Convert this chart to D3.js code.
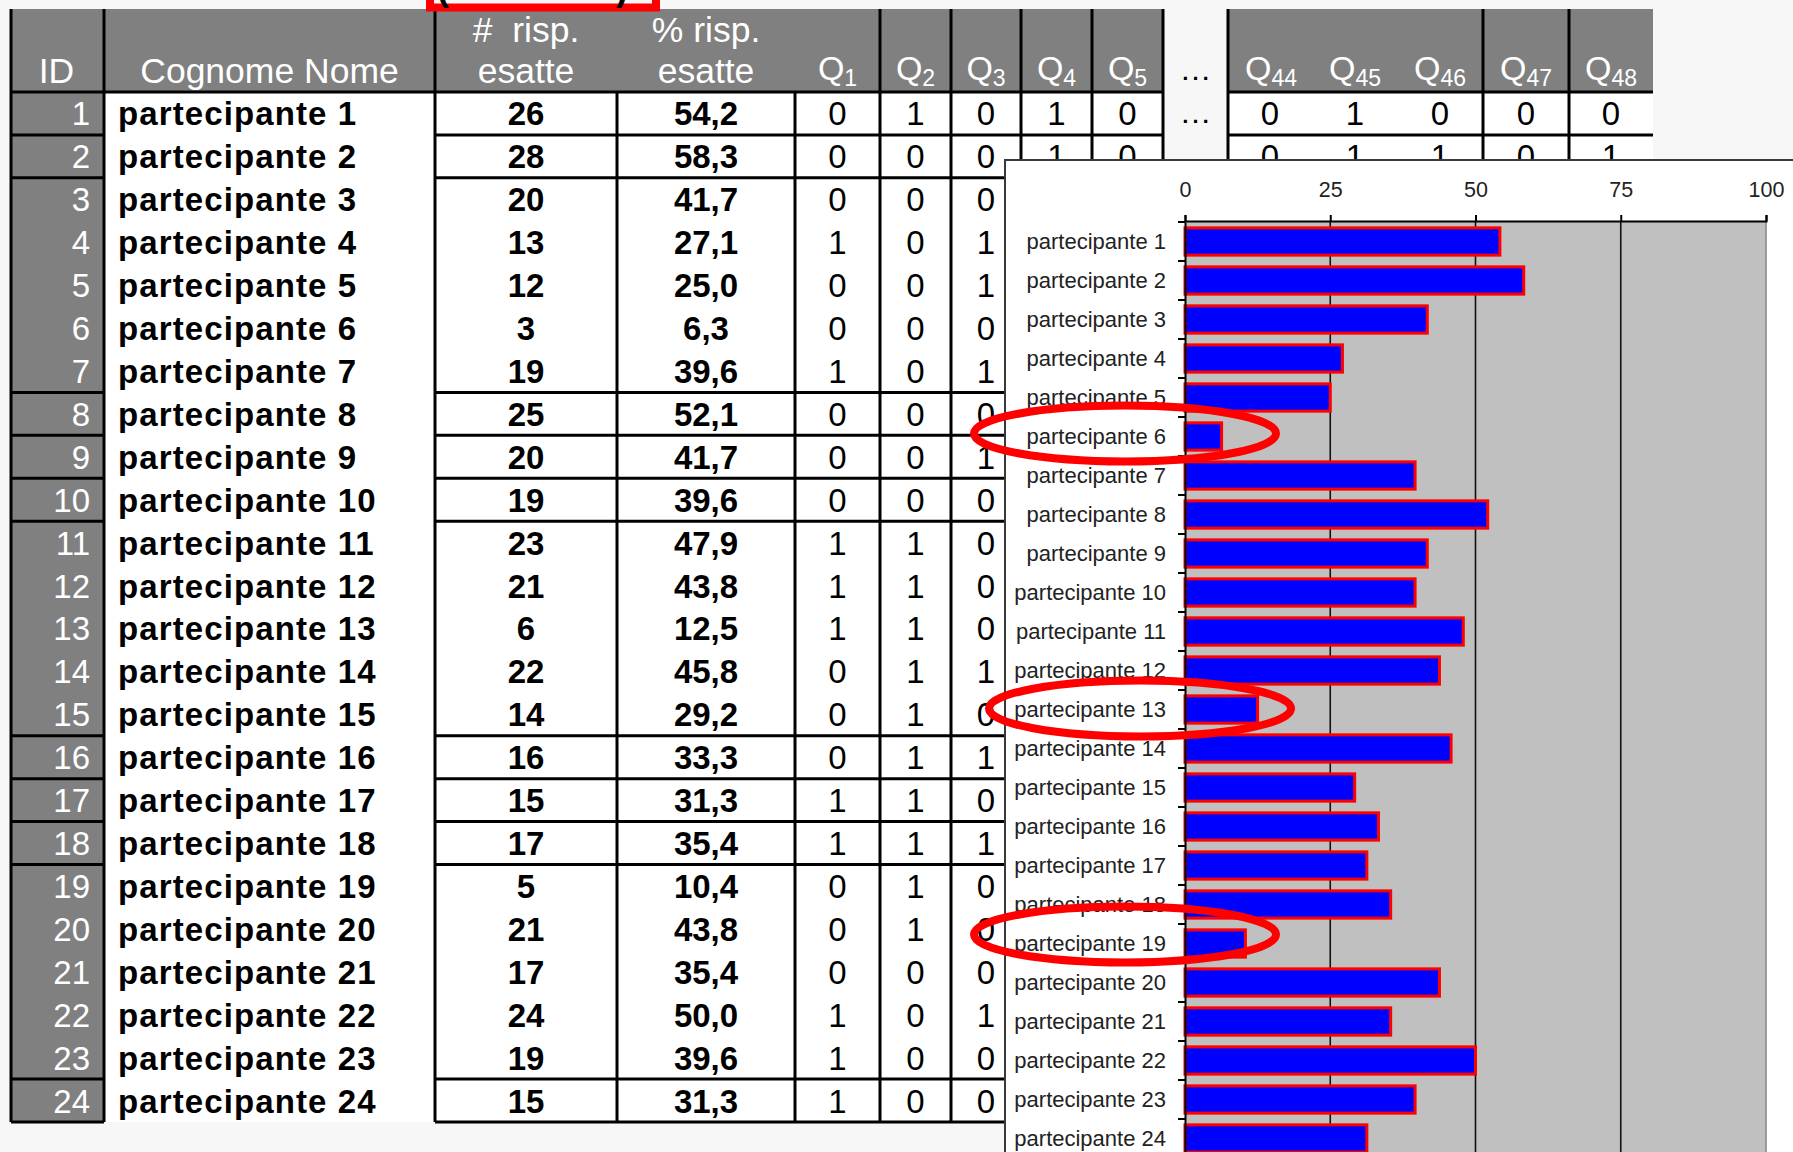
<!DOCTYPE html>
<html>
<head>
<meta charset="utf-8">
<script src="https://cdn.jsdelivr.net/npm/d3@7"></script>
<style>
  html, body { margin: 0; padding: 0; background: #f7f7f7; }
  svg { display: block; font-family: "Liberation Sans", Arial, sans-serif; }
</style>
</head>
<body>
<svg id="tabella" width="1793" height="1152"></svg>
<script>
const ids = [1, 2, 3, 4, 5, 6, 7, 8, 9, 10, 11, 12, 13, 14, 15, 16, 17, 18, 19, 20, 21, 22, 23, 24];
const nomi = ids.map(i => "partecipante " + i);
const rispEsatte = [26, 28, 20, 13, 12, 3, 19, 25, 20, 19, 23, 21, 6, 22, 14, 16, 15, 17, 5, 21, 17, 24, 19, 15];
const percEsatte = [54.2, 58.3, 41.7, 27.1, 25.0, 6.3, 39.6, 52.1, 41.7, 39.6, 47.9, 43.8, 12.5, 45.8, 29.2, 33.3, 31.3, 35.4, 10.4, 43.8, 35.4, 50.0, 39.6, 31.3];
const q1 = [0, 0, 0, 1, 0, 0, 1, 0, 0, 0, 1, 1, 1, 0, 0, 0, 1, 1, 0, 0, 0, 1, 1, 1];
const q2 = [1, 0, 0, 0, 0, 0, 0, 0, 0, 0, 1, 1, 1, 1, 1, 1, 1, 1, 1, 1, 0, 0, 0, 0];
const q3 = [0, 0, 0, 1, 1, 0, 1, 0, 1, 0, 0, 0, 0, 1, 0, 1, 0, 1, 0, 0, 0, 1, 0, 0];
// nur die ersten zwei Zeilen sind sichtbar (Rest vom Diagramm verdeckt)
const q4 = [1, 1];
const q5 = [0, 0];
const q44 = [0, 0];
const q45 = [1, 1];
const q46 = [0, 1];
const q47 = [0, 0];
const q48 = [0, 1];
const gruppi = [1, 1, 5, 1, 1, 1, 5, 1, 1, 1, 5, 1];   // Zeilen pro umrandetem Block
const xTicks = [0, 25, 50, 75, 100];
const evidenziati = ["partecipante 6", "partecipante 13", "partecipante 19"];

const fmt = v => d3.format(".1f")(v).replace(".", ",");

const svg = d3.select("#tabella");

// --- Tabelle ---
const top0 = 9, headBottom = 92, bodyBottom = 1122;
const row = d3.scaleBand().domain(nomi).range([headBottom, bodyBottom]);
const baseline = n => row(n) + row.bandwidth() / 2 + 12;

// Spaltengrenzen
const col = {
  id: [11, 104], nome: [104, 435], n: [435, 617], pct: [617, 795],
  q1: [795, 880], q2: [880, 951], q3: [951, 1021], q4: [1021, 1092], q5: [1092, 1163],
  gap: [1163, 1228], qa: [1228, 1483], q47: [1483, 1569], q48: [1569, 1653]
};
const mid = c => (c[0] + c[1]) / 2;

// Hintergründe
svg.append("rect").attr("x", 104).attr("y", headBottom).attr("width", 1163 - 104).attr("height", bodyBottom - headBottom).attr("fill", "#fff");
svg.append("rect").attr("x", 1228).attr("y", headBottom).attr("width", 1653 - 1228).attr("height", bodyBottom - headBottom).attr("fill", "#fff");
svg.append("rect").attr("x", 11).attr("y", top0).attr("width", 1163 - 11).attr("height", headBottom - top0).attr("fill", "#808080");
svg.append("rect").attr("x", 1228).attr("y", top0).attr("width", 1653 - 1228).attr("height", headBottom - top0).attr("fill", "#808080");
svg.append("rect").attr("x", 11).attr("y", headBottom).attr("width", 104 - 11).attr("height", bodyBottom - headBottom).attr("fill", "#808080");

// Kopfzeile
const head = svg.append("g").attr("fill", "#fff").attr("font-size", 35.5).attr("text-anchor", "middle");
head.append("text").attr("x", mid(col.id) - 1).attr("y", 83).text("ID");
head.append("text").attr("x", mid(col.nome)).attr("y", 83).text("Cognome Nome");
head.append("text").attr("x", mid(col.n)).attr("y", 42).attr("xml:space", "preserve").text("#  risp.");
head.append("text").attr("x", mid(col.n)).attr("y", 83).text("esatte");
head.append("text").attr("x", mid(col.pct)).attr("y", 42).text("% risp.");
head.append("text").attr("x", mid(col.pct)).attr("y", 83).text("esatte");

const qHead = [
  ["1", mid(col.q1)], ["2", mid(col.q2)], ["3", mid(col.q3)], ["4", mid(col.q4)], ["5", mid(col.q5)],
  ["44", 1271], ["45", 1355], ["46", 1440], ["47", mid(col.q47)], ["48", mid(col.q48)]
];
qHead.forEach(([s, cx]) => {
  const t = head.append("text").attr("x", cx).attr("y", 80).attr("font-size", 34);
  t.append("tspan").text("Q");
  t.append("tspan").attr("font-size", 23).attr("dy", 6).text(s);
});
svg.append("text").attr("x", mid(col.gap)).attr("y", 80).attr("text-anchor", "middle").attr("font-size", 32).text("…");

// Zellen
const body = svg.append("g").attr("font-size", 33).attr("text-anchor", "middle").attr("fill", "#000");
body.selectAll("text.id").data(ids).join("text").attr("class", "id")
  .attr("x", 90).attr("y", (d, i) => baseline(nomi[i])).attr("text-anchor", "end").attr("fill", "#fff").text(d => d);
body.selectAll("text.nome").data(nomi).join("text").attr("class", "nome")
  .attr("x", 118).attr("y", d => baseline(d)).attr("text-anchor", "start")
  .attr("font-weight", "bold").attr("letter-spacing", 1.1).text(d => d);
body.selectAll("text.n").data(rispEsatte).join("text").attr("class", "n")
  .attr("x", mid(col.n)).attr("y", (d, i) => baseline(nomi[i])).attr("font-weight", "bold").text(d => d);
body.selectAll("text.pct").data(percEsatte).join("text").attr("class", "pct")
  .attr("x", mid(col.pct)).attr("y", (d, i) => baseline(nomi[i])).attr("font-weight", "bold").text(d => fmt(d));

const qCols = [[q1, mid(col.q1)], [q2, mid(col.q2)], [q3, mid(col.q3)], [q4, mid(col.q4)], [q5, mid(col.q5)],
  [q44, 1270], [q45, 1355], [q46, 1440], [q47, mid(col.q47)], [q48, mid(col.q48)]];
qCols.forEach(([vals, cx]) => {
  body.append("g").selectAll("text").data(vals).join("text")
    .attr("x", cx).attr("y", (d, i) => baseline(nomi[i])).text(d => d);
});
body.append("text").attr("x", mid(col.gap)).attr("y", baseline(nomi[0]) - 2).attr("font-size", 32).text("…");

// Linien
const lines = svg.append("g").attr("stroke", "#000").attr("stroke-width", 3).attr("fill", "none");
const vline = (x, y1, y2) => lines.append("line").attr("x1", x).attr("x2", x).attr("y1", y1).attr("y2", y2);
const hline = (y, x1, x2) => lines.append("line").attr("x1", x1).attr("x2", x2).attr("y1", y).attr("y2", y);

[11, 104, 435, 880, 951, 1021, 1092, 1163, 1228, 1483, 1569].forEach(x => vline(x, top0, bodyBottom));
[617, 795].forEach(x => vline(x, headBottom, bodyBottom));
hline(headBottom, 11, 1163);
hline(headBottom, 1228, 1653);

// Blockgrenzen
let k = 0;
const grenzen = [];
gruppi.forEach(g => { k += g; grenzen.push(k); });
grenzen.forEach(r => {
  const yy = r < nomi.length ? row(nomi[r]) : bodyBottom;
  hline(yy, 11, 104);
  hline(yy, 435, 1163);
  hline(yy, 1228, 1653);
});

// --- Balkendiagramm (überlagert) ---
svg.append("rect").attr("x", 1005).attr("y", 160).attr("width", 820).attr("height", 1020)
  .attr("fill", "#fff").attr("stroke", "#3a3a3a").attr("stroke-width", 2);

const x = d3.scaleLinear().domain([0, 100]).range([1185, 1766]);
const y = d3.scaleBand().domain(nomi).range([222, 222 + 24 * 39]).paddingInner(0.3).paddingOuter(0.15);

svg.append("rect").attr("x", x(0)).attr("y", 221).attr("width", x(100) - x(0)).attr("height", 960).attr("fill", "#c0c0c0");

// Gitterlinien
svg.append("g").selectAll("line").data(xTicks.slice(1)).join("line")
  .attr("x1", d => x(d)).attr("x2", d => x(d)).attr("y1", 221).attr("y2", 1160)
  .attr("stroke", d => d === 100 ? "#8a8a8a" : "#111").attr("stroke-width", 1.6);

// Balken
svg.append("g").selectAll("rect").data(percEsatte).join("rect")
  .attr("x", x(0)).attr("y", (d, i) => y(nomi[i]))
  .attr("width", d => x(d) - x(0)).attr("height", y.bandwidth())
  .attr("fill", "#0000ff").attr("stroke", "#ff0000").attr("stroke-width", 3);

// Achse oben
const ax = svg.append("g").attr("transform", "translate(0,221)")
  .call(d3.axisTop(x).tickValues(xTicks).tickSize(6).tickPadding(18));
ax.selectAll("path, line").attr("stroke", "#000").attr("stroke-width", 2);
ax.selectAll("text").attr("font-size", 21.5).attr("fill", "#222").attr("font-family", "Liberation Sans, Arial, sans-serif");

// Achse links
const ay = svg.append("g").attr("transform", `translate(${x(0)},0)`)
  .call(d3.axisLeft(y).tickSize(0).tickPadding(19).tickSizeOuter(0));
ay.select(".domain").attr("stroke", "#000").attr("stroke-width", 2);
ay.selectAll("text").attr("font-size", 22).attr("fill", "#222").attr("font-family", "Liberation Sans, Arial, sans-serif");
const gap = (y.step() - y.bandwidth()) / 2;
ay.selectAll("line.grenze").data(nomi.concat(["end"])).join("line").attr("class", "grenze")
  .attr("x1", -7).attr("x2", 0)
  .attr("y1", d => d === "end" ? y.range()[1] : y(d) - gap)
  .attr("y2", d => d === "end" ? y.range()[1] : y(d) - gap)
  .attr("stroke", "#000").attr("stroke-width", 2);

// rote Markierungen
const ovale = {
  "partecipante 6": { cx: 1125, dy: -3 },
  "partecipante 13": { cx: 1140, dy: -1 },
  "partecipante 19": { cx: 1125, dy: -9 }
};
svg.append("g").selectAll("ellipse").data(evidenziati).join("ellipse")
  .attr("cx", d => ovale[d].cx).attr("cy", d => y(d) + y.bandwidth() / 2 + ovale[d].dy)
  .attr("rx", 151).attr("ry", 28)
  .attr("fill", "none").attr("stroke", "#ff0000").attr("stroke-width", 8);

// roter Rahmen oben (angeschnitten)
svg.append("rect").attr("x", 430).attr("y", -40).attr("width", 226).attr("height", 47.5)
  .attr("fill", "none").attr("stroke", "#ff0000").attr("stroke-width", 8);
svg.append("text").attr("x", 437).attr("y", 0).attr("font-size", 36).attr("font-weight", "bold").text("(");
svg.append("text").attr("x", 616).attr("y", 0).attr("font-size", 36).attr("font-weight", "bold").text(")");
</script>
</body>
</html>
